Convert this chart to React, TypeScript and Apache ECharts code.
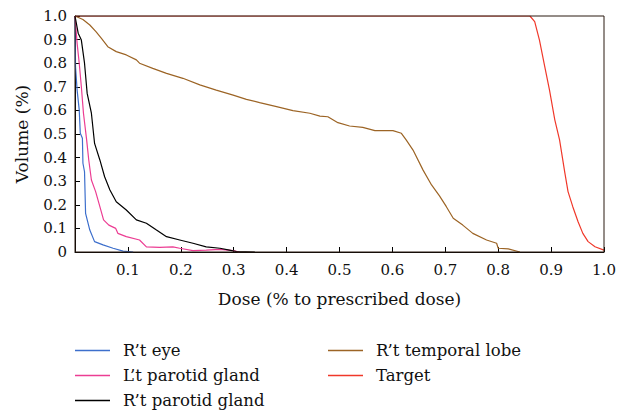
import React, { useEffect, useRef } from "react";
import * as echarts from "echarts";

const seriesNames = ["R’t eye", "L’t parotid gland", "R’t parotid gland", "R’t temporal lobe", "Target"];
const seriesColors = ["#3d6fcc", "#ec3d93", "#000000", "#9c6425", "#f0382a"];

const eyeData: [number, number][] = [
  [0, 1.0], [0.001, 0.785], [0.004, 0.686], [0.008, 0.602], [0.01, 0.503], [0.014, 0.482],
  [0.015, 0.376], [0.018, 0.34], [0.02, 0.164], [0.028, 0.093], [0.037, 0.044], [0.053, 0.03],
  [0.072, 0.016], [0.091, 0.004], [0.11, 0],
];

const lParotidData: [number, number][] = [
  [0, 1.0], [0.004, 0.884], [0.008, 0.8], [0.012, 0.7], [0.016, 0.588], [0.022, 0.475],
  [0.026, 0.39], [0.031, 0.305], [0.039, 0.256], [0.047, 0.192], [0.054, 0.136], [0.064, 0.114],
  [0.077, 0.1], [0.081, 0.079], [0.097, 0.065], [0.122, 0.051], [0.135, 0.022], [0.16, 0.02],
  [0.185, 0.022], [0.198, 0.016], [0.223, 0.006], [0.248, 0.008], [0.274, 0.011], [0.299, 0.006],
  [0.311, 0],
];

const rParotidData: [number, number][] = [
  [0, 1.0], [0.006, 0.927], [0.012, 0.898], [0.018, 0.8], [0.023, 0.672], [0.031, 0.588],
  [0.037, 0.46], [0.047, 0.39], [0.056, 0.319], [0.066, 0.263], [0.078, 0.213], [0.097, 0.178],
  [0.116, 0.136], [0.135, 0.122], [0.154, 0.093], [0.173, 0.065], [0.198, 0.051], [0.223, 0.037],
  [0.248, 0.022], [0.274, 0.016], [0.292, 0.008], [0.305, 0.002], [0.34, 0],
];

const temporalData: [number, number][] = [
  [0, 1.0], [0.015, 0.985], [0.028, 0.962], [0.04, 0.933], [0.05, 0.905], [0.062, 0.87],
  [0.078, 0.849], [0.097, 0.835], [0.116, 0.814], [0.122, 0.8], [0.147, 0.778], [0.173, 0.757],
  [0.204, 0.736], [0.236, 0.708], [0.267, 0.686], [0.299, 0.665], [0.324, 0.647], [0.349, 0.633],
  [0.381, 0.616], [0.412, 0.599], [0.444, 0.588], [0.463, 0.576], [0.478, 0.573], [0.497, 0.548],
  [0.519, 0.534], [0.544, 0.528], [0.567, 0.514], [0.601, 0.514], [0.617, 0.503], [0.626, 0.475],
  [0.639, 0.432], [0.658, 0.347], [0.674, 0.284], [0.689, 0.238], [0.702, 0.192], [0.715, 0.143],
  [0.733, 0.114], [0.752, 0.079], [0.778, 0.051], [0.797, 0.037], [0.8, 0.016], [0.819, 0.013],
  [0.841, 0],
];

const targetData: [number, number][] = [
  [0, 1.0], [0.86, 1.0], [0.869, 0.976], [0.878, 0.898], [0.888, 0.785], [0.897, 0.686],
  [0.907, 0.56], [0.916, 0.475], [0.926, 0.335], [0.932, 0.256], [0.941, 0.192], [0.951, 0.128],
  [0.96, 0.079], [0.97, 0.044], [0.983, 0.022], [1.0, 0.008],
];

const allData = [eyeData, lParotidData, rParotidData, temporalData, targetData];

const xTitle = "Dose (% to prescribed dose)";
const yTitle = "Volume (%)";

const FONT = "DejaVu Serif";

const fmt = (v: number) => (Math.abs(v) < 1e-9 ? "0" : v.toFixed(1));

export default function App() {
  const ref = useRef<HTMLDivElement>(null);
  useEffect(() => {
    if (!ref.current) return;
    const chart = echarts.init(ref.current, undefined, { renderer: "svg" });
    const legendCommon = {
      orient: "vertical" as const,
      itemWidth: 35,
      itemHeight: 1.5,
      itemGap: 6,
      padding: 0,
      icon: "rect",
      textStyle: { fontFamily: FONT, fontSize: 16.5, color: "#111", lineHeight: 19, padding: [0, 0, 0, 8] },
    };
    chart.setOption({
      animation: false,
      backgroundColor: "#ffffff",
      textStyle: { fontFamily: FONT },
      grid: {
        left: 75, right: 24, top: 16, bottom: 164, show: true,
        borderColor: "#2a1a10", borderWidth: 1, backgroundColor: "transparent", z: 10,
      },
      legend: [
        { ...legendCommon, left: 75, top: 341, data: seriesNames.slice(0, 3) },
        { ...legendCommon, left: 328, top: 341, data: seriesNames.slice(3) },
      ],
      xAxis: {
        type: "value",
        min: 0,
        max: 1,
        interval: 0.1,
        name: xTitle,
        nameLocation: "middle",
        nameGap: 38,
        nameTextStyle: { fontFamily: FONT, fontSize: 17, color: "#111" },
        axisLine: { show: true, lineStyle: { color: "#000", width: 1 } },
        axisTick: { show: true, inside: true, length: 5, lineStyle: { color: "#000" } },
        axisLabel: {
          fontFamily: FONT, fontSize: 15, color: "#111", margin: 10,
          formatter: (v: number) => (Math.abs(v) < 1e-9 ? "" : fmt(v)),
        },
        splitLine: { show: false },
      },
      yAxis: {
        type: "value",
        min: 0,
        max: 1,
        interval: 0.1,
        name: yTitle,
        nameLocation: "middle",
        nameGap: 45,
        nameTextStyle: { fontFamily: FONT, fontSize: 17, color: "#111" },
        axisLine: { show: true, lineStyle: { color: "#000", width: 1 } },
        axisTick: { show: true, inside: true, length: 5, lineStyle: { color: "#000" } },
        axisLabel: { fontFamily: FONT, fontSize: 15, color: "#111", margin: 8, formatter: fmt },
        splitLine: { show: false },
      },
      series: seriesNames.map((name, i) => ({
        name,
        type: "line",
        data: allData[i],
        symbol: "none",
        color: seriesColors[i],
        itemStyle: { color: seriesColors[i] },
        lineStyle: { color: seriesColors[i], width: 1.2 },
        z: 2 + (i === 3 ? 0 : 1),
      })),
    });
    return () => chart.dispose();
  }, []);
  return (
    <div
      ref={ref}
      style={{ position: "fixed", left: 0, top: 0, width: 628, height: 416, background: "#fff" }}
    />
  );
}
